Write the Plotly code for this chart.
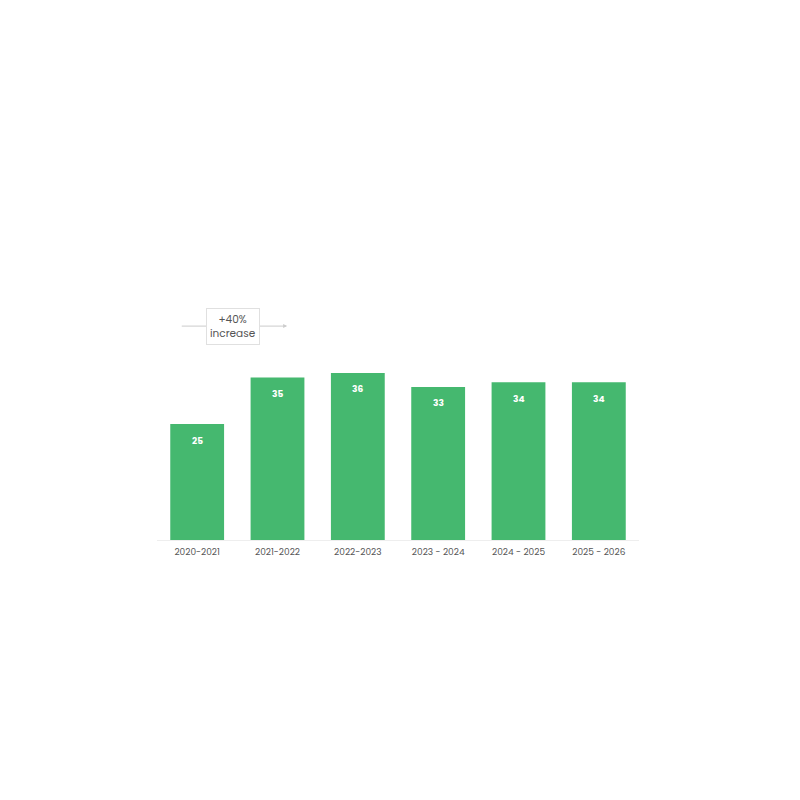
import plotly.graph_objs as go

# 数据
seasons = ["2020-2021", "2021-2022", "2022-2023", "2023 - 2024", "2024 - 2025", "2025 - 2026"]
values = [25, 35, 36, 33, 34, 34]
change_label = "+40%<br>increase"

bar_color = "#45b86f"
font_family = "Poppins, Inter, 'Open Sans', sans-serif"

fig = go.Figure(
    go.Bar(
        x=list(range(len(seasons))),
        y=values,
        marker=dict(color=bar_color, line=dict(width=0)),
        width=0.67,
        hoverinfo="skip",
    )
)

# 柱内数值标签
annotations = [
    dict(
        x=i, y=v, xref="x", yref="y",
        text=f"<b>{v}</b>", showarrow=False,
        yshift=-16.5, font=dict(color="white", size=9, family=font_family),
    )
    for i, v in enumerate(values)
]

# 增长箭头 (第一根 -> 第二根)
annotations.append(dict(
    x=1.12, y=46.1, xref="x", yref="y",
    ax=-0.211, ay=46.1, axref="x", ayref="y",
    text="", showarrow=True, arrowhead=2, arrowsize=0.8,
    arrowwidth=1, arrowcolor="#cccccc",
))
annotations.append(dict(
    x=0.448, y=46.1, xref="x", yref="y",
    text=change_label, showarrow=False,
    font=dict(color="#555555", size=10.5, family=font_family),
    bgcolor="white", bordercolor="#e0e0e0", borderwidth=1, borderpad=3,
))

fig.update_layout(
    width=800, height=800,
    margin=dict(l=149, r=169, t=292, b=268),
    paper_bgcolor="white", plot_bgcolor="white",
    showlegend=False,
    font=dict(family=font_family, color="#555555"),
    xaxis=dict(
        tickmode="array", tickvals=list(range(len(seasons))), ticktext=seasons,
        range=[-0.5, len(seasons) - 0.5],
        showgrid=False, zeroline=False,
        showline=True, linecolor="#eeeeee", linewidth=1,
        ticks="", tickfont=dict(size=9, color="#555555"),
        ticklabelstandoff=3,
    ),
    yaxis=dict(
        range=[0, 240 / 4.64], visible=False, showgrid=False, zeroline=False,
    ),
    annotations=annotations,
)

fig.write_html("out.html")
